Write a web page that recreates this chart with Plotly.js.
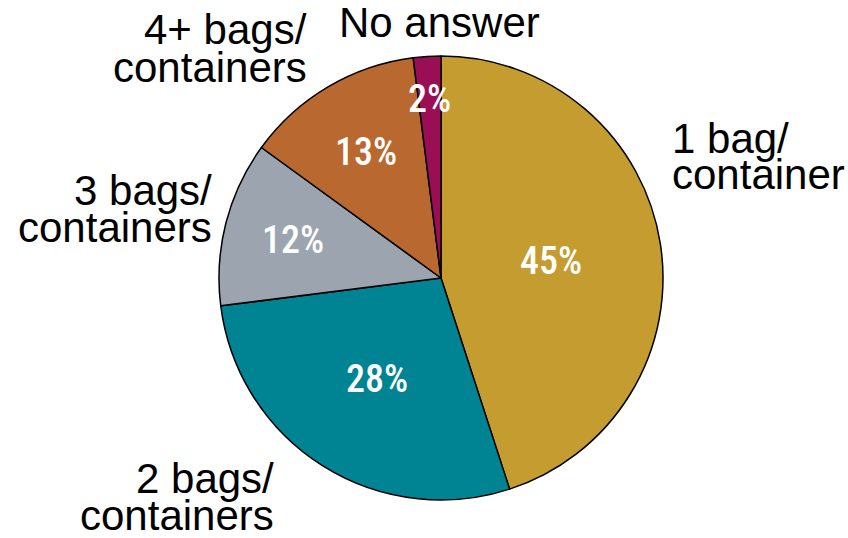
<!DOCTYPE html>
<html>
<head>
<meta charset="utf-8">
<script src="https://cdn.plot.ly/plotly-3.0.1.min.js"></script>
<style>html,body{margin:0;padding:0;background:#fff;}#chart{width:848px;height:538px;}</style>
</head>
<body>
<div id="chart"></div>
<script>
// ---- data ----
const categories = ["1 bag/ container", "2 bags/ containers", "3 bags/ containers", "4+ bags/ containers", "No answer"];
const values = [45, 28, 12, 13, 2];
const percentLabels = ["45%", "28%", "12%", "13%", "2%"];
const labelLines = [["1 bag/", "container"], ["2 bags/", "containers"], ["3 bags/", "containers"], ["4+ bags/", "containers"], ["No answer"]];
const colors = ["#C49C30", "#008494", "#9CA5AF", "#B96830", "#9A0E55"];

// ---- geometry / styling ----
const W = 848, H = 538;
const cx = 441, cy = 278, R = 222;
const pctRadius = [0.50, 0.54, 0.69, 0.66, 0.81];
const outLabel = [
  {x: 670, y: [153, 189], align: "left"},
  {x: 276, y: [493, 530], align: "right"},
  {x: 214, y: [205, 242], align: "right"},
  {x: 309, y: [44, 82], align: "right"},
  {x: 439, y: [38], align: "center"}
];

const px = x => x / W;
const py = y => 1 - y / H;

const trace = {
  type: "pie",
  labels: categories,
  values: values,
  sort: false,
  direction: "clockwise",
  rotation: 0,
  textinfo: "none",
  hoverinfo: "label+percent",
  marker: {colors: colors, line: {color: "#000", width: 1.5}},
  domain: {x: [px(cx - R), px(cx + R)], y: [py(cy + R), py(cy - R)]},
  showlegend: false
};

const annotations = [];
const total = values.reduce((a, b) => a + b, 0);
let cum = 0;
values.forEach((v, i) => {
  const mid = (cum + v / 2) / total * 2 * Math.PI;
  cum += v;
  const r = R * pctRadius[i];
  const x = cx + r * Math.sin(mid);
  const y = cy - r * Math.cos(mid);
  annotations.push({
    xref: "paper", yref: "paper", x: px(x), y: py(y),
    xanchor: "center", yanchor: "middle", showarrow: false,
    text: percentLabels[i],
    font: {family: "Roboto Condensed, Liberation Sans Narrow, DejaVu Sans Condensed, DejaVu Sans", size: 38, color: "#fff", weight: 500}
  });
  const o = outLabel[i];
  labelLines[i].forEach((line, k) => {
    annotations.push({
      xref: "paper", yref: "paper", x: px(o.x), y: py(o.y[k] - 15),
      xanchor: o.align, yanchor: "middle", showarrow: false,
      text: line,
      font: {family: "Liberation Sans, Arial, sans-serif", size: 42, color: "#000"}
    });
  });
});

const layout = {
  width: W, height: H,
  margin: {l: 0, r: 0, t: 0, b: 0},
  paper_bgcolor: "#fff",
  annotations: annotations
};

Plotly.newPlot("chart", [trace], layout, {displayModeBar: false, staticPlot: true}).then(gd => {
  gd.querySelectorAll(".annotation text").forEach(t => {
    if (percentLabels.includes(t.textContent)) t.style.fontStretch = "condensed";
  });
});
</script>
</body>
</html>
